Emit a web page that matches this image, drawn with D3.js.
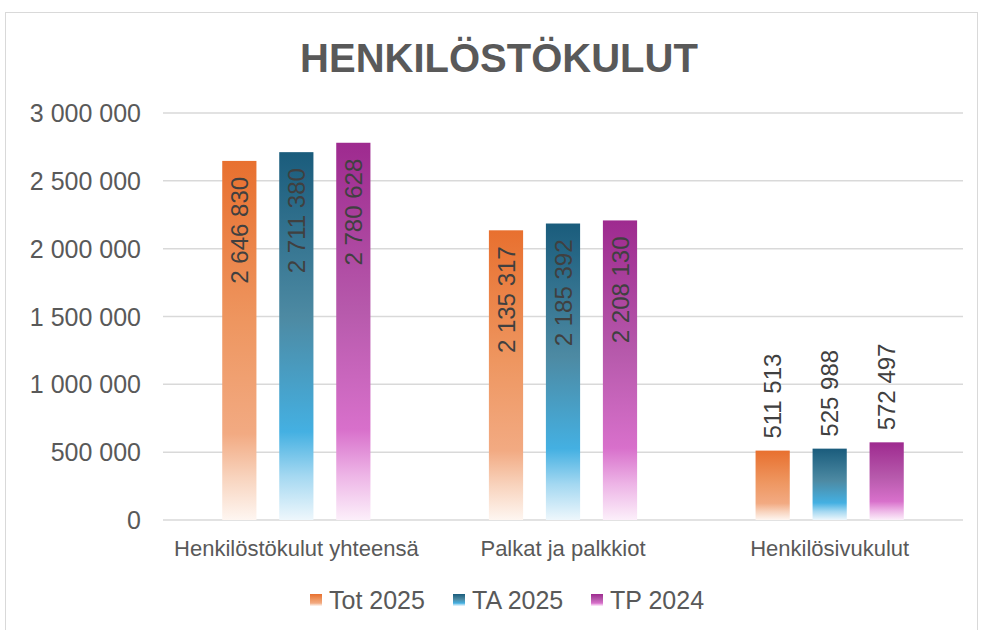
<!DOCTYPE html>
<html>
<head>
<meta charset="utf-8">
<script src="https://cdn.jsdelivr.net/npm/d3@7"></script>
<style>
  body { margin: 0; background: #fff; }
  text { font-family: "Liberation Sans", Arial, sans-serif; }
</style>
</head>
<body>
<svg width="981" height="630"></svg>
<script>
var categories = ["Henkilöstökulut yhteensä", "Palkat ja palkkiot", "Henkilösivukulut"];
var series = ["Tot 2025", "TA 2025", "TP 2024"];
var tot2025 = [2646830, 2135317, 511513];
var ta2025 = [2711380, 2185392, 525988];
var tp2024 = [2780628, 2208130, 572497];
var yTicks = [0, 500000, 1000000, 1500000, 2000000, 2500000, 3000000];

var values = [tot2025, ta2025, tp2024];

var svg = d3.select("svg"),
  margin = {left: 163, right: 18, top: 113, bottom: 110},
  width = 981,
  height = 630,
  x0, x1, y;

// gradient per series: dark top, brighter near bottom, fading to white
var grads = [
  {id: "g0", stops: [[0, "#E8702F"], [0.45, "#EE9660"], [0.76, "#F2AA82"], [0.88, "#F8D3BD"], [1, "#FEF6F1"]]},
  {id: "g1", stops: [[0, "#1A5C7C"], [0.45, "#4D8AA3"], [0.76, "#44B0E2"], [0.88, "#A4D8F1"], [1, "#EEF7FC"]]},
  {id: "g2", stops: [[0, "#9E2A8F"], [0.45, "#B75AAC"], [0.76, "#D870CB"], [0.88, "#EDB4E6"], [1, "#FCEFFA"]]}
];

var defs = svg.append("defs");
grads.forEach(function(g) {
  var lg = defs.append("linearGradient").attr("id", g.id)
    .attr("x1", 0).attr("y1", 0).attr("x2", 0).attr("y2", 1);
  g.stops.forEach(function(s) {
    lg.append("stop").attr("offset", s[0]).attr("stop-color", s[1]);
  });
});

// frame
svg.append("rect")
  .attr("x", 5.5).attr("y", 12.5)
  .attr("width", 972).attr("height", 640)
  .attr("fill", "#fff").attr("stroke", "#d9d9d9");

x0 = d3.scaleBand().domain(categories).range([margin.left, width - margin.right]);
x1 = d3.scaleBand().domain(series).range([-85.5, 85.5]).paddingInner(0.4).paddingOuter(0.2);
y = d3.scaleLinear().domain([0, 3000000]).range([520, margin.top]);

var fmt = function(v) { return d3.format(",")(v).replace(/,/g, " "); };

// title
svg.append("text")
  .attr("x", 499).attr("y", 72)
  .attr("text-anchor", "middle")
  .attr("font-size", 40).attr("font-weight", "bold")
  .attr("fill", "#595959")
  .text("HENKILÖSTÖKULUT");

// gridlines + y labels
var yAxis = svg.append("g").attr("class", "y-axis");
yAxis.selectAll("line").data(yTicks).enter().append("line")
  .attr("x1", margin.left).attr("x2", width - margin.right)
  .attr("y1", function(d) { return y(d); })
  .attr("y2", function(d) { return y(d); })
  .attr("stroke", "#d9d9d9").attr("stroke-width", 1.5);
yAxis.selectAll("text").data(yTicks).enter().append("text")
  .attr("x", 141)
  .attr("y", function(d) { return y(d); })
  .attr("dy", "0.36em")
  .attr("text-anchor", "end")
  .attr("font-size", 25).attr("fill", "#595959")
  .text(fmt);

// bars
var groups = svg.append("g").selectAll("g").data(categories).enter().append("g")
  .attr("transform", function(d) { return "translate(" + (x0(d) + x0.bandwidth() / 2) + ",0)"; });

groups.each(function(cat, ci) {
  var g = d3.select(this);
  var rows = series.map(function(s, si) { return {s: s, si: si, v: values[si][ci]}; });

  g.selectAll("rect").data(rows).enter().append("rect")
    .attr("x", function(d) { return x1(d.s); })
    .attr("width", x1.bandwidth())
    .attr("y", function(d) { return y(d.v); })
    .attr("height", function(d) { return y(0) - y(d.v); })
    .attr("fill", function(d) { return "url(#g" + d.si + ")"; });

  g.selectAll("text.lbl").data(rows).enter().append("text")
    .attr("class", "lbl")
    .attr("font-size", 24).attr("fill", "#404040")
    .attr("dy", "0.36em")
    .attr("text-anchor", function(d) { return (y(0) - y(d.v)) > 150 ? "end" : "start"; })
    .attr("transform", function(d) {
      var cx = x1(d.s) + x1.bandwidth() / 2;
      var ty = (y(0) - y(d.v)) > 150 ? y(d.v) + 16 : y(d.v) - 12;
      return "translate(" + cx + "," + ty + ") rotate(-90)";
    })
    .text(function(d) { return fmt(d.v); });
});

// category labels
svg.append("g").selectAll("text").data(categories).enter().append("text")
  .attr("x", function(d) { return x0(d) + x0.bandwidth() / 2; })
  .attr("y", 556)
  .attr("text-anchor", "middle")
  .attr("font-size", 22).attr("fill", "#595959")
  .text(function(d) { return d; });

// legend
var legX = [310, 453, 591];
var leg = svg.append("g").selectAll("g").data(series).enter().append("g")
  .attr("transform", function(d, i) { return "translate(" + legX[i] + ",600)"; });
leg.append("rect")
  .attr("x", 0).attr("y", -6).attr("width", 12).attr("height", 12)
  .attr("fill", function(d, i) { return "url(#g" + i + ")"; });
leg.append("text")
  .attr("x", 19).attr("dy", "0.36em")
  .attr("font-size", 25).attr("fill", "#595959")
  .text(function(d) { return d; });
</script>
</body>
</html>
